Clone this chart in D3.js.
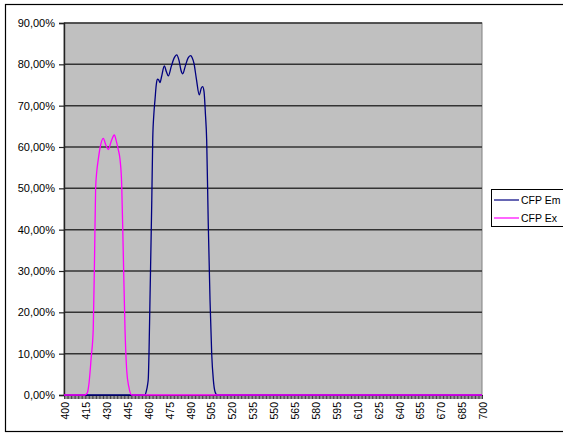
<!DOCTYPE html>
<html>
<head>
<meta charset="utf-8">
<script src="https://cdn.jsdelivr.net/npm/d3@7"></script>
<style>
  body { margin: 0; background: #fff; }
  svg text { font-family: "Liberation Sans", Arial, sans-serif; fill: #000; }
</style>
</head>
<body>
<div id="chart"></div>
<script>
// values (wavelength nm, transmission %)
const emWl  = [400, 458, 459, 460, 460.5, 461, 461.7, 463, 463.7, 464.5, 465.3, 466.2, 467, 468, 468.9, 470, 472, 473.5, 474.9, 477, 479, 480.9, 482.5, 484, 485.2, 487, 489, 490.9, 492, 493.3, 495, 497.1, 498.5, 499.5, 500.5, 501.5, 502.4, 503.5, 504.8, 506, 507.2, 508.4, 510, 700];
const emVal = [0, 0, 0.8, 2.5, 4, 10, 23, 47, 62, 68, 71.4, 75, 76.4, 76.2, 75.6, 77, 79.6, 78.2, 77.2, 79.5, 81.5, 82.3, 81, 78.5, 77.7, 79.5, 81.5, 82.1, 81.6, 80.2, 76.5, 72.6, 74.2, 74.6, 73.4, 68, 61.7, 42, 23, 10, 3.6, 0.8, 0, 0];

const exWl  = [400, 415, 416.7, 418, 419.5, 421, 422, 422.7, 423.5, 424.6, 426, 428.2, 430, 431.8, 434, 436.1, 437.5, 439, 440.2, 441.4, 442.5, 443.8, 445, 446.5, 448.6, 700];
const exVal = [0, 0, 0.5, 3, 9, 16, 35, 50, 54, 57, 60, 62.1, 60.5, 59.4, 61.5, 62.9, 61.5, 59.3, 57, 51, 35, 15.7, 6, 2, 0, 0];

const yTicks = [0, 10, 20, 30, 40, 50, 60, 70, 80, 90];
const xLabels = d3.range(400, 701, 15);
const xCategories = d3.range(400, 701, 1);

const seriesNames = ["CFP Em", "CFP Ex"];
const seriesColors = ["#000080", "#FF00FF"];

const W = 563, H = 435;
const plot = {left: 64, top: 23, right: 482, bottom: 395};

const svg = d3.select("#chart").append("svg")
    .attr("width", W)
    .attr("height", H);

// outer chart frame
svg.append("rect")
    .attr("x", 5.5).attr("y", 4.5)
    .attr("width", 620).attr("height", 427)
    .attr("fill", "#fff")
    .attr("stroke", "#000")
    .attr("stroke-width", 1.2);

var x = d3.scaleLinear().domain([400, 700]).range([plot.left, plot.right]);
var y = d3.scaleLinear().domain([0, 90]).range([plot.bottom, plot.top]);

// plot background
svg.append("rect")
    .attr("x", plot.left).attr("y", plot.top)
    .attr("width", plot.right - plot.left)
    .attr("height", plot.bottom - plot.top)
    .attr("fill", "#C0C0C0")
    .attr("stroke", "#808080")
    .attr("stroke-width", 1);

// gridlines
svg.append("g")
    .selectAll("line")
    .data(yTicks.filter(function(d){ return d > 0; }))
    .enter().append("line")
    .attr("x1", plot.left).attr("x2", plot.right)
    .attr("y1", function(d){ return y(d); })
    .attr("y2", function(d){ return y(d); })
    .attr("stroke", "#333")
    .attr("stroke-width", 1.5);

// y axis
var y_axis = d3.axisLeft(y)
    .tickValues(yTicks)
    .tickSize(5)
    .tickPadding(4)
    .tickFormat(function(d){ return d.toFixed(2).replace(".", ",") + "%"; });

var gy = svg.append("g")
    .attr("transform", "translate(" + plot.left + ",0)")
    .call(y_axis);
gy.select(".domain").attr("stroke", "#222").attr("stroke-width", 1.4);
gy.selectAll(".tick line").attr("stroke", "#222").attr("stroke-width", 1.2);
gy.selectAll("text").style("font-size", "11px").style("font-family", "Liberation Sans, Arial, sans-serif");

// x axis: a tick for every category, a label every 15
var x_axis = d3.axisBottom(x)
    .tickValues(xCategories)
    .tickSize(4)
    .tickSizeOuter(0)
    .tickFormat("");

var gx = svg.append("g")
    .attr("transform", "translate(0," + plot.bottom + ")")
    .call(x_axis);
gx.select(".domain").attr("stroke", "#000").attr("stroke-width", 1.2);
gx.selectAll(".tick line").attr("stroke", "#111").attr("stroke-width", 0.8);

svg.append("g")
    .selectAll("text")
    .data(xLabels)
    .enter().append("text")
    .attr("transform", function(d){ return "translate(" + (x(d) + 1.5) + "," + (plot.bottom + 7) + ") rotate(-90)"; })
    .attr("dy", "0.35em")
    .style("text-anchor", "end")
    .style("font-size", "10.5px")
    .text(function(d){ return d; });

// series
var line = d3.line()
    .x(function(d){ return x(d[0]); })
    .y(function(d){ return y(d[1]); })
    .curve(d3.curveMonotoneX);

var emData = d3.zip(emWl, emVal);
var exData = d3.zip(exWl, exVal);

svg.append("path")
    .datum(emData)
    .attr("d", line)
    .attr("fill", "none")
    .attr("stroke", seriesColors[0])
    .attr("stroke-width", 1.3);

svg.append("path")
    .datum(exData)
    .attr("d", line)
    .attr("fill", "none")
    .attr("stroke", seriesColors[1])
    .attr("stroke-width", 1.3);

// legend
var lg = svg.append("g");
lg.append("rect")
    .attr("x", 491.5).attr("y", 189.5)
    .attr("width", 100).attr("height", 37)
    .attr("fill", "#fff")
    .attr("stroke", "#000")
    .attr("stroke-width", 1);

seriesNames.forEach(function(name, i){
    var ly = 200 + i * 18;
    lg.append("line")
        .attr("x1", 494).attr("x2", 519)
        .attr("y1", ly).attr("y2", ly)
        .attr("stroke", seriesColors[i])
        .attr("stroke-width", 1.2);
    lg.append("text")
        .attr("x", 521).attr("y", ly)
        .attr("dy", "0.35em")
        .style("font-size", "10.5px")
        .text(name);
});
</script>
</body>
</html>
